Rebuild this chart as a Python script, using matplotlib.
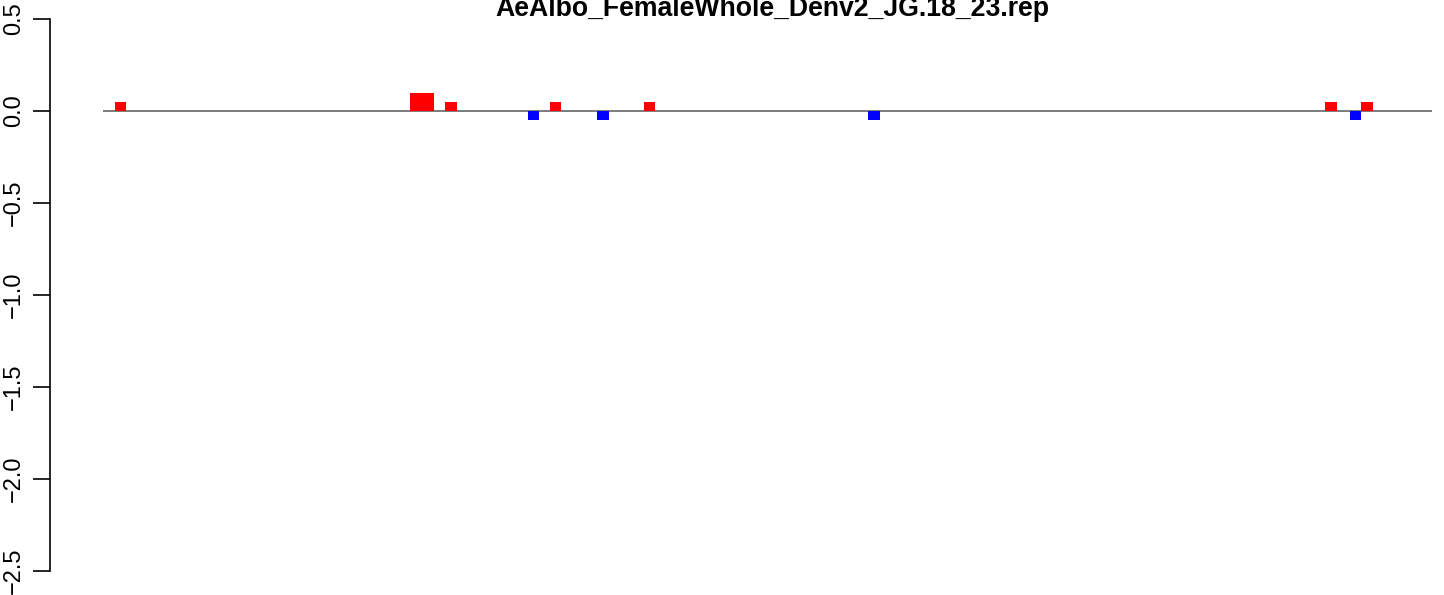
import matplotlib
matplotlib.use("Agg")
import matplotlib.pyplot as plt

plt.rcParams['font.family'] = ['Liberation Sans', 'DejaVu Sans']

title = "AeAlbo_FemaleWhole_Denv2_JG.18_23.rep"

# bar positions (left edge, in position units), widths and log-ratio values
pos_left = [1.0, 26.5, 29.5, 36.6, 38.5, 42.6, 46.6, 66.0, 105.4, 107.5, 108.5]
widths = [1, 2, 1, 1, 1, 1, 1, 1, 1, 1, 1]
values = [0.05, 0.1, 0.05, -0.05, 0.05, -0.05, 0.05, -0.05, 0.05, -0.05, 0.05]
line_start, line_end = 0.0, 114.6

yticks = [0.5, 0.0, -0.5, -1.0, -1.5, -2.0, -2.5]

fig = plt.figure(figsize=(14.44, 5.95), dpi=100)
ax = fig.add_axes([50 / 1444, 1 - 571 / 595, (1432 - 50) / 1444, (571 - 19) / 595])

cols = ['red' if v > 0 else 'blue' for v in values]
ax.hlines(0, line_start, line_end, color='#666666', lw=1.2, zorder=1)
ax.bar(pos_left, values, width=widths, align='edge', color=cols, edgecolor='none', zorder=2)

ax.set_xlim(-(103 - 50) / 11.56, line_end)
ax.set_ylim(-2.5, 0.5)

for s in ['top', 'right', 'bottom']:
    ax.spines[s].set_visible(False)
ax.spines['left'].set_linewidth(1.2)
ax.set_xticks([])
ax.set_yticks(yticks)
ax.set_yticklabels([f"{t:.1f}".replace('-', '\u2212') for t in yticks],
                   rotation=90, va='center', fontsize=17)
ax.tick_params(axis='y', length=12, width=1.2, pad=6)

fig.text(772 / 1444, 1 - 16 / 595, title, ha='center', va='baseline',
         fontsize=19.2, fontweight='bold')

fig.savefig('out.png', dpi=100)
